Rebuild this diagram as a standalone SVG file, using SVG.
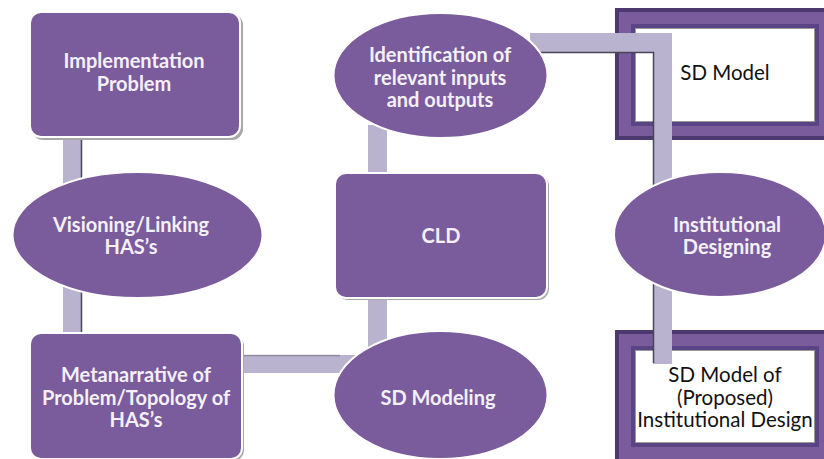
<svg xmlns="http://www.w3.org/2000/svg" width="824" height="459" viewBox="0 0 824 459">
<style>
.node{fill:#7a5b9c;stroke:#ffffff;stroke-width:2}
.shadow{fill:#a8a8a8}
.wt{font-family:Lato,"Liberation Sans",sans-serif;font-weight:bold;font-size:20px;fill:#f4f0f8;text-anchor:middle}
.bt{font-family:Lato,"Liberation Sans",sans-serif;font-size:20.5px;fill:#111111;text-anchor:middle}
.frame{fill:#7a5b9c;stroke:#4d3870;stroke-width:4}
.inner{fill:#ffffff;stroke:#5a4486;stroke-width:4}
.dots{fill:none;stroke:#333333;stroke-width:1;stroke-dasharray:1 1}
.bar{fill:#bab3cf}
.edge{stroke:#4a4458;stroke-width:1.5;fill:none}
</style>
<g id="sd-model">
<rect class="frame" x="617" y="10" width="222" height="128"/>
<rect class="inner" x="633" y="26" width="184" height="98"/>
<rect class="dots" x="635.5" y="28.5" width="179" height="93"/>
</g>
<g id="sd-model-proposed">
<rect class="frame" x="617" y="332" width="222" height="132"/>
<rect class="inner" x="633" y="348" width="184" height="97"/>
<rect class="dots" x="635.5" y="350.5" width="179" height="92"/>
</g>
<g id="connectors">
<rect class="bar" x="63" y="135" width="18" height="200"/>
<line class="edge" x1="81.5" y1="138" x2="81.5" y2="333"/>
<rect class="bar" x="240" y="355" width="122" height="18"/>
<line class="edge" x1="242" y1="355.5" x2="340" y2="355.5" stroke-opacity="0.4"/>
<rect class="bar" x="368" y="290" width="19" height="60"/>
<rect class="bar" x="368" y="125" width="19" height="55"/>
<path d="M530 42.5 H662.5 V364" fill="none" stroke="#bab3cf" stroke-width="19" stroke-linejoin="miter"/>
<path class="edge" d="M540 52.5 H653.5 V363"/>
</g>
<g id="implementation-problem">
<rect class="shadow" x="32" y="14" width="211" height="126" rx="11"/>
<rect class="node" x="30" y="12" width="210" height="125" rx="11"/>
<text class="wt" x="134" y="68">Implementation</text>
<text class="wt" x="134" y="91">Problem</text>
</g>
<g id="visioning">
<ellipse class="node" cx="137.5" cy="235" rx="125" ry="63"/>
<text class="wt" x="131" y="232">Visioning/Linking</text>
<text class="wt" x="131" y="254">HAS’s</text>
</g>
<g id="metanarrative">
<rect class="shadow" x="32" y="335" width="212" height="126" rx="11"/>
<rect class="node" x="30" y="333" width="212" height="126" rx="11"/>
<text class="wt" x="136" y="382">Metanarrative of</text>
<text class="wt" x="136" y="405">Problem/Topology of</text>
<text class="wt" x="136" y="427">HAS’s</text>
</g>
<g id="identification">
<ellipse class="node" cx="440.5" cy="75.5" rx="107" ry="62.5"/>
<text class="wt" x="440" y="62">Identification of</text>
<text class="wt" x="440" y="85">relevant inputs</text>
<text class="wt" x="440" y="107">and outputs</text>
</g>
<g id="cld">
<rect class="shadow" x="337" y="175" width="212" height="125" rx="11"/>
<rect class="node" x="335" y="173" width="212" height="125" rx="11"/>
<text class="wt" x="441" y="243">CLD</text>
</g>
<g id="sd-modeling">
<ellipse class="node" cx="440.5" cy="395" rx="107" ry="64"/>
<text class="wt" x="438" y="405">SD Modeling</text>
</g>
<g id="institutional-designing">
<ellipse class="node" cx="720" cy="234.5" rx="106" ry="62.5"/>
<text class="wt" x="727" y="232">Institutional</text>
<text class="wt" x="727" y="254">Designing</text>
</g>
<g id="sd-model-text">
<text class="bt" x="725" y="80">SD Model</text>
<text class="bt" x="725" y="382">SD Model of</text>
<text class="bt" x="725" y="404.5">(Proposed)</text>
<text class="bt" x="725" y="427">Institutional Design</text>
</g>
</svg>
